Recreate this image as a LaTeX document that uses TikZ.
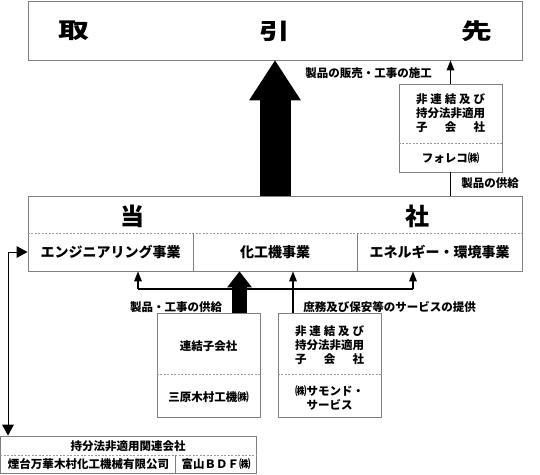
\documentclass[tikz,border=0pt]{standalone}
\usepackage{fontspec}
\setmainfont{Noto Sans CJK JP}
\usetikzlibrary{arrows.meta}
\definecolor{bordergray}{HTML}{808080}
\definecolor{sepgray}{HTML}{9A9A9A}
\tikzset{
  box/.style={draw=bordergray, line width=0.9pt, inner sep=0pt},
  sepline/.style={draw=sepgray, line width=0.7pt, dash pattern=on 2pt off 1.5pt},
  divline/.style={draw=bordergray, line width=0.9pt},
  small/.style={inner sep=0pt, font=\fontsize{11.5}{14}\selectfont\bfseries, align=center},
  boxtxt/.style={inner sep=0pt, font=\fontsize{14}{16}\selectfont\bfseries},
  bigtxt/.style={inner sep=0pt, font=\fontsize{22}{24}\selectfont\bfseries},
  toshatxt/.style={inner sep=0pt, font=\fontsize{24}{26}\selectfont\bfseries},
  bigarrow/.style={line width=31pt, -{Triangle[width=52pt,length=40pt,line width=0pt]}},
  midarrow/.style={line width=15pt, -{Triangle[width=25pt,length=16pt,line width=0pt]}},
  thinarrow/.style={line width=1.9pt, -{Triangle[width=8pt,length=10pt,line width=0pt]}},
  thinline/.style={line width=1.9pt},
  bracket/.style={line width=2.4pt},
  sidearrow/.style={line width=0.9pt, {Triangle[width=12pt,length=11pt,line width=0pt]}-{Triangle[width=12pt,length=11pt,line width=0pt]}},
}
\begin{document}
\begin{tikzpicture}[x=1pt,y=-1pt]
\useasboundingbox (0,0) rectangle (540,474);
% top box
\node[box, minimum width=494pt, minimum height=59pt] (tori) at (275,30.5) {};
\node[bigtxt] (t1) at (74,31) {\scalebox{1.4}[1]{取}};
\node[bigtxt] (t2) at (275,31) {\scalebox{1.4}[1]{引}};
\node[bigtxt] (t3) at (477,31) {\scalebox{1.4}[1]{先}};
% Foreco box
\node[box, minimum width=103pt, minimum height=88pt] (fore) at (450.5,128) {};
\draw[sepline] (fore.west |- 0,143) coordinate (fs1) -- (fore.east |- fs1);
\node[small] (foreA) at (450.5,113) {\makebox[6em]{非\hfill 連\hfill 結\hfill 及\hfill び}\\持分法非適用\\\makebox[6em]{子\hfill 会\hfill 社}};
\node[small] (foreB) at (450.5,158) {フォレコ㈱};
% company box
\node[box, minimum width=494pt, minimum height=75pt] (tosha) at (275,233.5) {};
\draw[sepline] (tosha.west |- 0,233) coordinate (ts1) -- (tosha.east |- ts1);
\draw[divline] (193,233) coordinate (d1a) -- (tosha.south -| d1a);
\draw[divline] (357,233) coordinate (d2a) -- (tosha.south -| d2a);
\node[toshatxt] (to1) at (132,216) {当};
\node[toshatxt] (to2) at (417,216) {社};
\node[boxtxt] (eng) at (110.5,252) {エンジニアリング事業};
\node[boxtxt] (kako) at (275,252) {化工機事業};
\node[boxtxt] (ene) at (439.5,252) {エネルギー・環境事業};
% subsidiaries
\node[box, minimum width=103pt, minimum height=104pt] (ren) at (208.5,365) {};
\draw[sepline] (ren.west |- 0,374) coordinate (rs1) -- (ren.east |- rs1);
\node[small] (renA) at (208.5,346) {連結子会社};
\node[small] (renB) at (208.5,397) {三原木村工機㈱};
\node[box, minimum width=103pt, minimum height=104pt] (hiren) at (329.5,365) {};
\draw[sepline] (hiren.west |- 0,374) coordinate (hs1) -- (hiren.east |- hs1);
\node[small] (hirenA) at (329.5,345.5) {\makebox[6em]{非\hfill 連\hfill 結\hfill 及\hfill び}\\持分法非適用\\\makebox[6em]{子\hfill 会\hfill 社}};
\node[small] (hirenB) at (329.5,397.5) {㈱サモンド・\\サービス};
% affiliate box
\node[box, minimum width=255.5pt, minimum height=37pt] (kan) at (128.25,454.5) {};
\draw[sepline] (kan.west |- 0,455) coordinate (ks1) -- (kan.east |- ks1);
\draw[divline] (175,455) coordinate (kd) -- (kan.south -| kd);
\node[small] (kanA) at (128,446) {持分法非適用関連会社};
\node[small] (kanB) at (88.5,464.5) {煙台万華木村化工機械有限公司};
\node[small] (kanC) at (216,464.5) {富山ＢＤＦ㈱};
% arrows
\draw[bigarrow] (tosha.north) -- (tori.south);
\coordinate (rx) at (450.5,0);
\draw[thinarrow] (fore.north) -- (tori.south -| rx);
\draw[thinline] (tosha.north -| rx) -- (fore.south);
\node[small, anchor=center] (l1) at (368.5,73) {製品の販売・工事の施工};
\node[small, anchor=center] (l2) at (490,183.5) {製品の供給};
% lower arrows
\coordinate (bl) at (138,289);
\coordinate (br) at (413,289);
\draw[bracket] (bl) -- (br);
\draw[thinarrow] (bl) -- (tosha.south -| bl);
\draw[thinarrow] (br) -- (tosha.south -| br);
\coordinate (mx) at (293,0);
\draw[thinarrow] (hiren.north -| mx) -- (tosha.south -| mx);
\coordinate (kx) at (239.5,0);
\draw[midarrow] (ren.north -| kx) -- (tosha.south -| kx);
\node[small] (l3) at (176,307.5) {製品・工事の供給};
\node[small] (l4) at (389.5,307.5) {庶務及び保安等のサービスの提供};
% side connector
\coordinate (engw) at (tosha.west |- eng);
\coordinate (kanN) at (8,0);
\draw[sidearrow] (engw) -| (kan.north -| kanN);
\end{tikzpicture}
\end{document}
